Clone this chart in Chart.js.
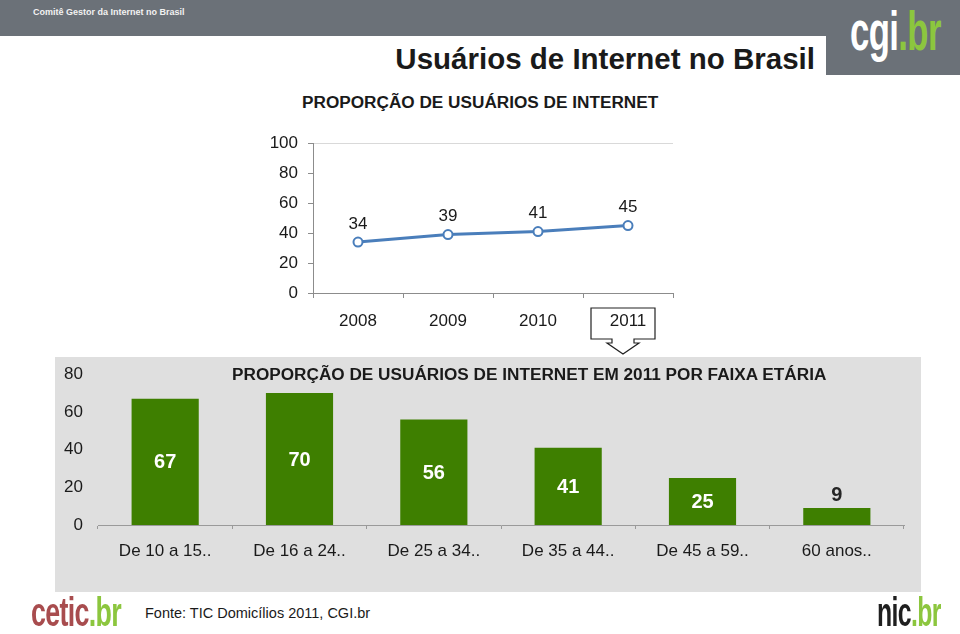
<!DOCTYPE html>
<html>
<head>
<meta charset="utf-8">
<script src="https://cdn.jsdelivr.net/npm/chart.js@4/dist/chart.umd.min.js"></script>
<style>
  body { margin: 0; width: 960px; height: 634px; position: relative; overflow: hidden; background: #fff; font-family: "Liberation Sans", Arial, sans-serif; color: #1a1a1a; }
  .abs { position: absolute; }
  #topo { left: 0; top: 0; width: 960px; height: 36px; background: #6b7178; }
  #caixaLogo { left: 826px; top: 0; width: 134px; height: 75px; background: #6b7178; }
  #branco { left: 0; top: 36px; width: 826px; height: 60px; background: #fff; border-radius: 12px 12px 0 0; }
  #comite { left: 33px; top: 7px; font-size: 9px; font-weight: bold; color: #f2f2f2; }
  .logo { font-weight: bold; white-space: nowrap; transform-origin: left top; letter-spacing: -1px; }
  .verde { color: #8cc63e; }
  #cgi { left: 850px; top: -2px; font-size: 56px; color: #fff; transform: scaleX(0.62); }
  #cetic { left: 31px; top: 590px; font-size: 40px; color: #a84c4e; transform: scaleX(0.67); }
  #nic { left: 877px; top: 590px; font-size: 40px; color: #1f1f1f; transform: scaleX(0.62); }
  #titulo { right: 145px; top: 42px; font-size: 29.5px; font-weight: bold; }
  #sub1 { left: 302px; top: 92px; font-size: 17.2px; font-weight: bold; }
  #painel { left: 55px; top: 357px; width: 866px; height: 235px; background: #dfdfdf; }
  #sub2 { left: 232px; top: 364px; font-size: 17.2px; font-weight: bold; }
  #fonte { left: 145px; top: 605px; font-size: 14.5px; }
  #seta { left: 0; top: 0; }
  #linha { left: 250px; top: 123px; }
  #barras { left: 55px; top: 357px; }
</style>
</head>
<body>
<div id="topo" class="abs"></div>
<div id="caixaLogo" class="abs"></div>
<div id="branco" class="abs"></div>
<div id="comite" class="abs">Comitê Gestor da Internet no Brasil</div>
<div id="cgi" class="abs logo">cgi<span class="verde">.br</span></div>
<div id="titulo" class="abs">Usuários de Internet no Brasil</div>
<div id="sub1" class="abs">PROPORÇÃO DE USUÁRIOS DE INTERNET</div>
<div id="painel" class="abs"></div>
<svg id="seta" class="abs" width="960" height="634">
  <polygon points="591,308 655,308 655,339 634,339 634,343 639,343 623,354 607,343 612,343 612,339 591,339"
           fill="#fff" stroke="#222" stroke-width="1.2"/>
</svg>
<canvas id="linha" class="abs" width="440" height="222"></canvas>
<canvas id="barras" class="abs" width="866" height="235"></canvas>
<div id="sub2" class="abs">PROPORÇÃO DE USUÁRIOS DE INTERNET EM 2011 POR FAIXA ETÁRIA</div>
<div id="fonte" class="abs">Fonte: TIC Domicílios 2011, CGI.br</div>
<div id="cetic" class="abs logo">cetic<span class="verde">.br</span></div>
<div id="nic" class="abs logo">nic<span class="verde">.br</span></div>

<script>
// dados
const anos = ["2008", "2009", "2010", "2011"];
const usuarios = [34, 39, 41, 45];

const faixas = ["De 10 a 15..", "De 16 a 24..", "De 25 a 34..", "De 35 a 44..", "De 45 a 59..", "60 anos.."];
const usuariosFaixa = [67, 70, 56, 41, 25, 9];

const fonte = "'Liberation Sans', Arial, sans-serif";
Chart.defaults.font.family = fonte;
Chart.defaults.color = "#1a1a1a";
Chart.defaults.animation = false;

// rótulos em cima dos pontos
const rotulosLinha = {
    id: "rotulosLinha",
    afterDatasetsDraw(chart) {
        const c = chart.ctx;
        c.save();
        c.font = "17px " + fonte;
        c.fillStyle = "#1a1a1a";
        c.textAlign = "center";
        c.textBaseline = "middle";
        chart.getDatasetMeta(0).data.forEach((pt, i) => {
            c.fillText(usuarios[i], pt.x, pt.y - 18);
        });
        c.restore();
    }
};

// rótulos das barras (dentro, ou em cima se a barra for baixa)
const rotulosBarras = {
    id: "rotulosBarras",
    afterDatasetsDraw(chart) {
        const c = chart.ctx;
        c.save();
        c.font = "bold 20px " + fonte;
        c.textAlign = "center";
        c.textBaseline = "middle";
        chart.getDatasetMeta(0).data.forEach((bar, i) => {
            const v = usuariosFaixa[i];
            if (v >= 15) {
                c.fillStyle = "#ffffff";
                c.fillText(v, bar.x, (bar.y + bar.base) / 2 + 1);
            } else {
                c.fillStyle = "#262626";
                c.fillText(v, bar.x, bar.y - 13);
            }
        });
        c.restore();
    }
};

new Chart(document.getElementById("linha"), {
    type: "line",
    data: {
        labels: anos,
        datasets: [{
            data: usuarios,
            borderColor: "#4a7ebb",
            borderWidth: 3,
            pointRadius: 4.5,
            pointBorderWidth: 2,
            pointBackgroundColor: "#ffffff",
            pointBorderColor: "#4a7ebb"
        }]
    },
    options: {
        responsive: false,
        layout: { padding: { top: 5, right: 17, left: 0, bottom: 0 } },
        plugins: { legend: { display: false }, tooltip: { enabled: false } },
        scales: {
            x: {
                offset: true,
                afterFit: (s) => { s.height = 52; },
                border: { color: "#8c8c8c" },
                grid: {
                    offset: true,
                    tickLength: 5,
                    tickColor: "#8c8c8c",
                    color: (ctx) => ctx.index === anos.length ? "#d9d9d9" : "rgba(0,0,0,0)"
                },
                ticks: { font: { size: 17 }, padding: 13 }
            },
            y: {
                min: 0, max: 100,
                afterFit: (s) => { s.width = 63; },
                border: { color: "#8c8c8c" },
                grid: {
                    tickLength: 5,
                    tickColor: "#8c8c8c",
                    color: (ctx) => ctx.tick && ctx.tick.value === 100 ? "#d9d9d9" : "rgba(0,0,0,0)"
                },
                ticks: { stepSize: 20, font: { size: 17 }, padding: 10 }
            }
        }
    },
    plugins: [rotulosLinha]
});

new Chart(document.getElementById("barras"), {
    type: "bar",
    data: {
        labels: faixas,
        datasets: [{
            data: usuariosFaixa,
            backgroundColor: "#3e7f00",
            categoryPercentage: 1,
            barPercentage: 0.5
        }]
    },
    options: {
        responsive: false,
        layout: { padding: { top: 10, right: 17, left: 0, bottom: 0 } },
        plugins: { legend: { display: false }, tooltip: { enabled: false } },
        scales: {
            x: {
                afterFit: (s) => { s.height = 67; },
                border: { color: "#9a9a9a" },
                grid: { drawOnChartArea: false, tickLength: 4, tickColor: "#9a9a9a" },
                ticks: { font: { size: 17 }, padding: 12 }
            },
            y: {
                min: 0, max: 80,
                afterFit: (s) => { s.width = 43; },
                border: { display: false },
                grid: { display: false },
                ticks: { stepSize: 20, font: { size: 17 }, padding: 7 }
            }
        }
    },
    plugins: [rotulosBarras]
});
</script>
</body>
</html>
